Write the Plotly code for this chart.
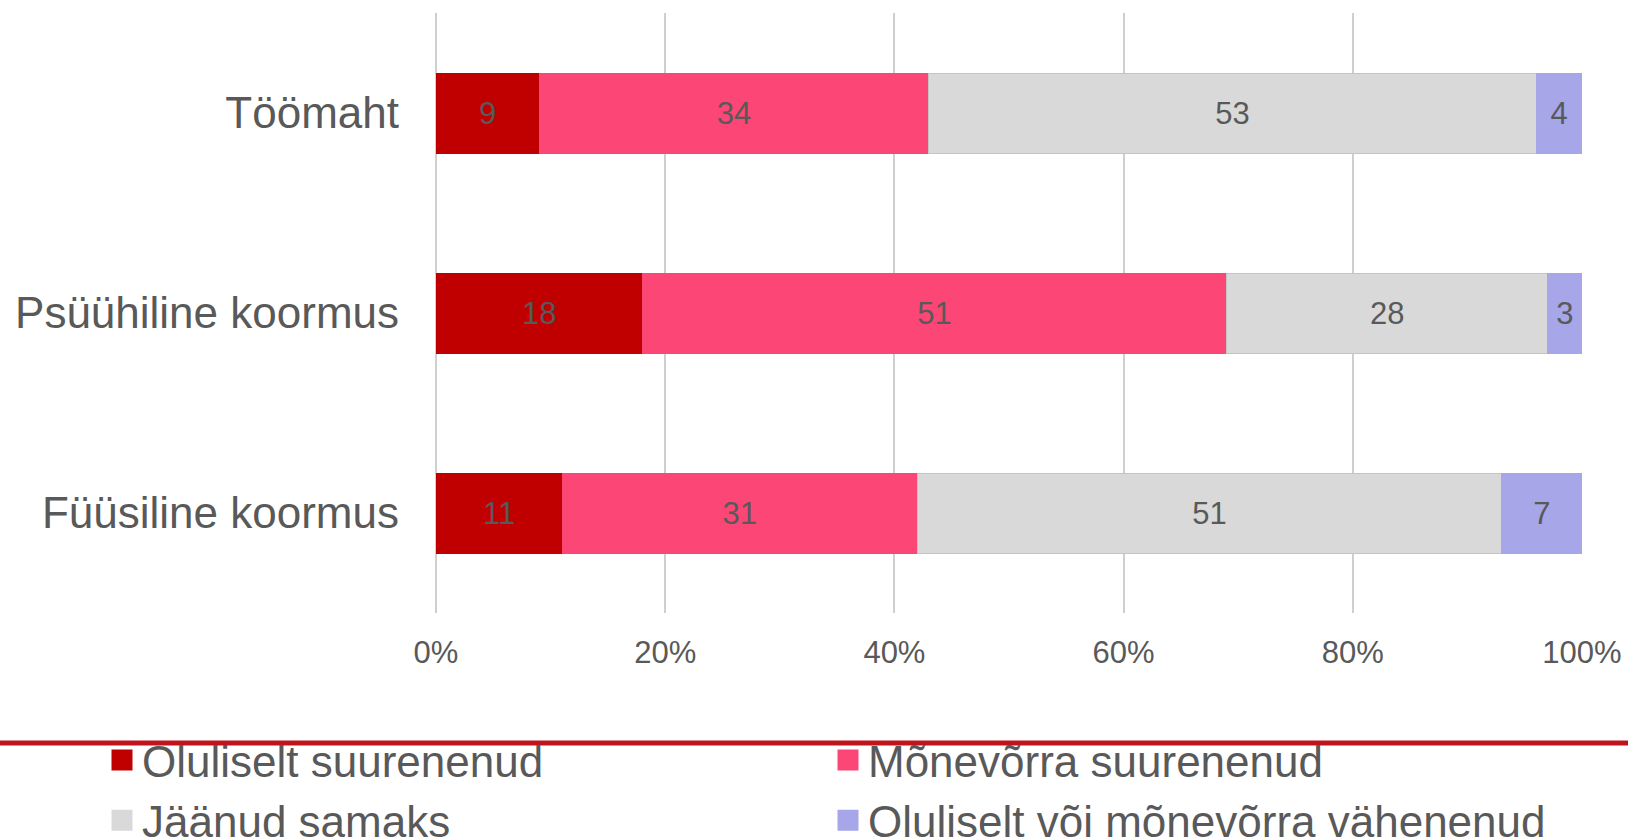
import plotly.graph_objects as go

categories = ["Töömaht", "Psüühiline koormus", "Füüsiline koormus"]
series_names = ["Oluliselt suurenenud", "Mõnevõrra suurenenud", "Jäänud samaks",
                "Oluliselt või mõnevõrra vähenenud"]
oluliselt_suurenenud = [9, 18, 11]
monevorra_suurenenud = [34, 51, 31]
jaanud_samaks = [53, 28, 51]
vahenenud = [4, 3, 7]
tick_values = [0, 20, 40, 60, 80, 100]
tick_labels = ["0%", "20%", "40%", "60%", "80%", "100%"]

series_values = [oluliselt_suurenenud, monevorra_suurenenud, jaanud_samaks, vahenenud]
colors = ["#C00000", "#FC4676", "#D9D9D9", "#A6A6E8"]
line_colors = ["#C00000", "#FC4676", "#C4C4C4", "#A6A6E8"]

FONT = "Liberation Sans, Arial, sans-serif"
TXT = "#595959"

W, H = 1628, 839
L, R, T, B = 436, 46, 13, 226
PW, PH = W - L - R, H - T - B

fig = go.Figure()
for name, vals, col, lc in zip(series_names, series_values, colors, line_colors):
    fig.add_trace(go.Bar(
        y=categories, x=vals, name=name, orientation="h",
        marker=dict(color=col, line=dict(color=lc, width=1)),
        text=[str(v) for v in vals], textposition="inside",
        insidetextanchor="middle", textangle=0,
        textfont=dict(family=FONT, size=31, color=TXT),
        showlegend=False, hoverinfo="x+y",
    ))
# legend entries (larger square symbols)
for name, col in zip(series_names, colors):
    fig.add_trace(go.Scatter(
        x=[None], y=[None], mode="markers", name=name,
        marker=dict(symbol="square", size=16, color=col, line=dict(color=col, width=5)),
        showlegend=True,
    ))

fig.update_layout(
    width=W, height=H,
    barmode="stack", bargap=0.6,
    margin=dict(l=L, r=R, t=T, b=B, autoexpand=False),
    paper_bgcolor="white", plot_bgcolor="white",
    font=dict(family=FONT, color=TXT),
    xaxis=dict(
        range=[0, 100], tickvals=tick_values, ticktext=tick_labels,
        showgrid=True, gridcolor="#CFCFCF", gridwidth=1.5,
        zeroline=True, zerolinecolor="#CFCFCF", zerolinewidth=1.5,
        showline=False, ticks="", tickfont=dict(family=FONT, size=31, color=TXT),
        ticklabelstandoff=18, fixedrange=True,
    ),
    yaxis=dict(
        categoryorder="array", categoryarray=categories, autorange="reversed",
        showgrid=False, ticks="", showline=False,
        tickfont=dict(family=FONT, size=44, color=TXT),
        ticklabelstandoff=36, fixedrange=True,
    ),
    legend=dict(
        orientation="h", traceorder="normal",
        x=(102 - L) / PW, y=(H - B - 725) / PH, xanchor="left", yanchor="top",
        entrywidth=681, entrywidthmode="pixels",
        font=dict(family=FONT, size=44, color=TXT),
        bgcolor="rgba(0,0,0,0)", itemclick=False, itemdoubleclick=False,
    ),
    shapes=[dict(
        type="line", xref="paper", yref="paper",
        x0=-L / PW, x1=(W - L) / PW, y0=(H - B - 743) / PH, y1=(H - B - 743) / PH,
        line=dict(color="#C0141C", width=5), layer="below",
    )],
)

fig.write_html("out.html", config={"displayModeBar": False},
               post_script="document.body.style.margin='0';")
